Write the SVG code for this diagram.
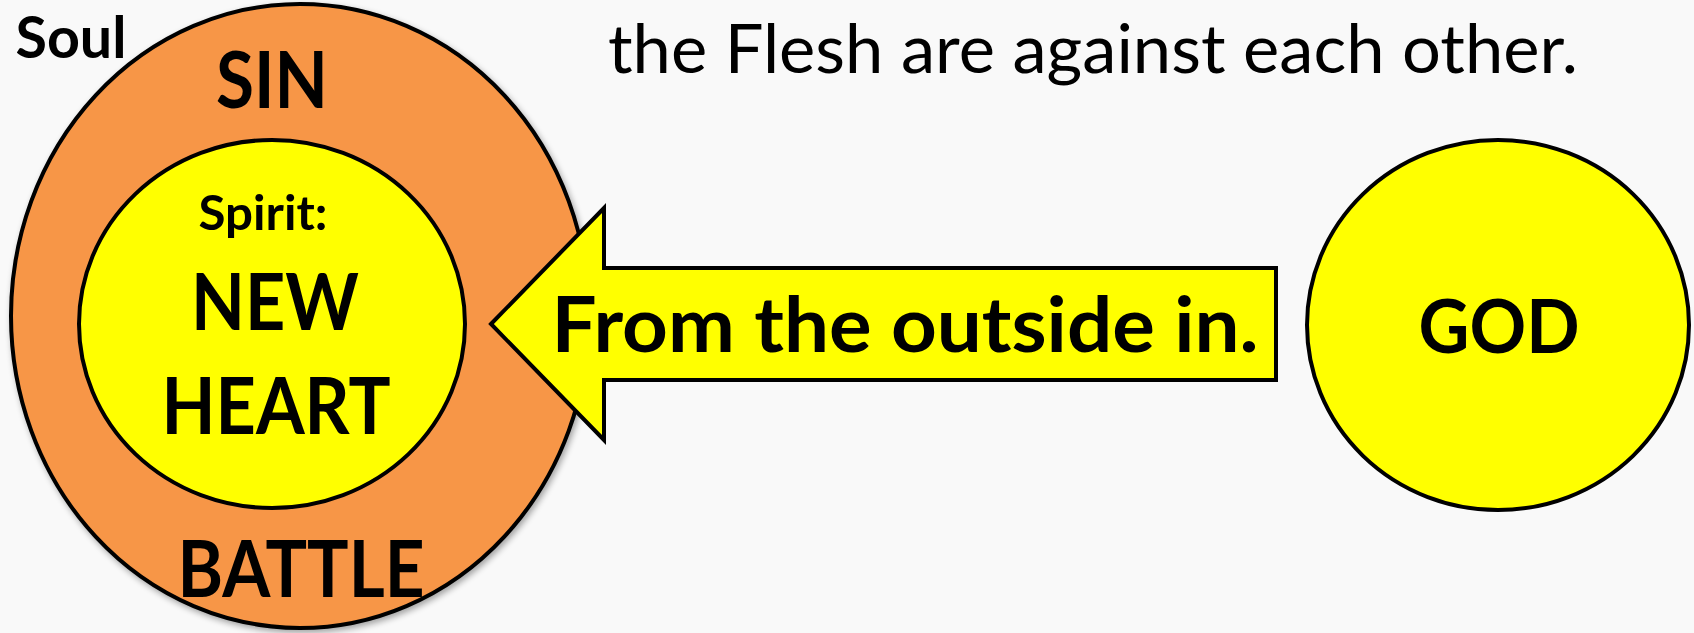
<svg xmlns="http://www.w3.org/2000/svg" width="1694" height="633" viewBox="0 0 1694 633">
<defs>
<filter id="sh" x="-10%" y="-10%" width="120%" height="120%">
<feGaussianBlur in="SourceAlpha" stdDeviation="3"/>
<feOffset dx="2" dy="3" result="b"/>
<feComponentTransfer><feFuncA type="linear" slope="0.35"/></feComponentTransfer>
<feMerge><feMergeNode/><feMergeNode in="SourceGraphic"/></feMerge>
</filter>
</defs>
<style>
.shape{stroke:#000;stroke-width:4}
.orange{fill:#F79646}
.yellow{fill:#FFFF00}
.b{font-family:Lato,"Open Sans","Liberation Sans",sans-serif;font-weight:bold;fill:#000;text-anchor:middle}
.r{font-family:Lato,"Open Sans","Liberation Sans",sans-serif;font-weight:normal;fill:#000}
</style>
<rect width="1694" height="633" fill="#F9F9F9"/>
<text class="r" x="608" y="73" font-size="67" textLength="970" lengthAdjust="spacingAndGlyphs">the Flesh are against each other.</text>
<g id="soul">
<ellipse class="shape orange" cx="300" cy="316" rx="289" ry="312" filter="url(#sh)"/>
<text class="b" x="71" y="58" font-size="57" textLength="111" lengthAdjust="spacingAndGlyphs">Soul</text>
<text class="b" x="272" y="108" font-size="78" textLength="112" lengthAdjust="spacingAndGlyphs">SIN</text>
<text class="b" x="301" y="597" font-size="78" textLength="247" lengthAdjust="spacingAndGlyphs">BATTLE</text>
</g>
<g id="spirit">
<ellipse class="shape yellow" cx="272" cy="324" rx="193" ry="184"/>
<text class="b" x="263" y="230" font-size="48" textLength="129" lengthAdjust="spacingAndGlyphs">Spirit:</text>
<text class="b" x="275" y="330" font-size="78" textLength="168" lengthAdjust="spacingAndGlyphs">NEW</text>
<text class="b" x="276" y="434" font-size="78" textLength="229" lengthAdjust="spacingAndGlyphs">HEART</text>
</g>
<g id="connectors">
<g id="arrow">
<path class="shape yellow" d="M491,324 L604,208 L604,268 L1276,268 L1276,380 L604,380 L604,440 Z"/>
<text class="b" x="905" y="352" font-size="77" textLength="707" lengthAdjust="spacingAndGlyphs">From the outside in.</text>
</g>
</g>
<g id="god">
<ellipse class="shape yellow" cx="1498" cy="325" rx="191" ry="185"/>
<text class="b" x="1499" y="353" font-size="75" textLength="161" lengthAdjust="spacingAndGlyphs">GOD</text>
</g>
</svg>
